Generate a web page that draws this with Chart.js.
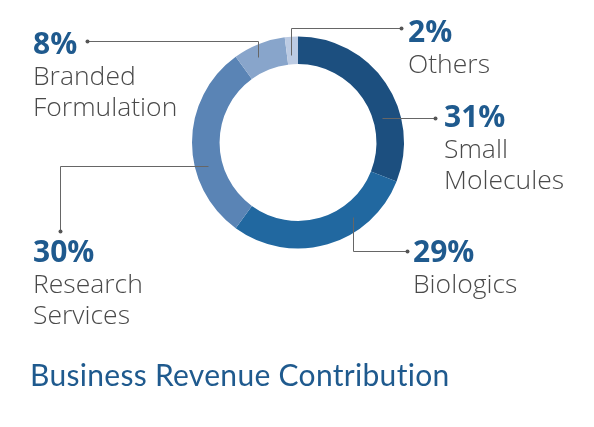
<!DOCTYPE html>
<html>
<head>
<meta charset="utf-8">
<title>Business Revenue Contribution</title>
<script src="https://cdn.jsdelivr.net/npm/chart.js@4.4.1/dist/chart.umd.min.js"></script>
<style>
  html, body { margin: 0; padding: 0; background: #fff; }
  #wrap { width: 594px; height: 427px; }
</style>
</head>
<body>
<div id="wrap"><canvas id="revenueChart" width="594" height="427"></canvas></div>
<script>
// data, clockwise from 12 o'clock
const categories = ["Small Molecules", "Biologics", "Research Services", "Branded Formulation", "Others"];
const shares = [31, 29, 30, 8, 2];
const labelLines = [["Small", "Molecules"], ["Biologics"], ["Research", "Services"], ["Branded", "Formulation"], ["Others"]];
const sliceColors = ["#1c4f7f", "#2168a0", "#5a84b5", "#88a5cb", "#bccbe3"];

// callout layout: leader polyline (ends at the dot) and text anchor
const callouts = [
  { line: [[382, 118], [435, 118]], x: 444, y: 127 },
  { line: [[353, 217], [353, 251], [407, 251]], x: 413, y: 262 },
  { line: [[208, 166], [60, 166], [60, 231]], x: 33, y: 262 },
  { line: [[258, 57], [258, 41], [87, 41]], x: 33, y: 54 },
  { line: [[291, 55], [291, 28], [401, 28]], x: 408, y: 42 },
];

const BLUE = "#1f5a8e";
const GRAY = "#4a4a4a";
const FONT = "'Open Sans', 'Noto Sans', sans-serif";

const calloutPlugin = {
  id: "callouts",
  afterDraw(chart) {
    const ctx = chart.ctx;
    ctx.save();
    callouts.forEach((c, i) => {
      // leader line
      ctx.strokeStyle = "#666";
      ctx.lineWidth = 1;
      ctx.beginPath();
      c.line.forEach((p, j) => {
        if (j === 0) ctx.moveTo(p[0] + 0.5, p[1] + 0.5);
        else ctx.lineTo(p[0] + 0.5, p[1] + 0.5);
      });
      ctx.stroke();
      const end = c.line[c.line.length - 1];
      ctx.fillStyle = "#555";
      ctx.beginPath();
      ctx.arc(end[0] + 0.5, end[1] + 0.5, 2, 0, Math.PI * 2);
      ctx.fill();

      // texts
      ctx.textBaseline = "alphabetic";
      ctx.textAlign = "left";
      ctx.fillStyle = BLUE;
      ctx.font = "bold 30px " + FONT;
      ctx.fillText(shares[i] + "%", c.x, c.y);
      ctx.fillStyle = GRAY;
      ctx.font = "300 26.5px " + FONT;
      labelLines[i].forEach((t, k) => {
        ctx.fillText(t, c.x, c.y + 31 * (k + 1));
      });
    });

    // title (small letter spacing also keeps Lato from joining "ti")
    ctx.fillStyle = BLUE;
    ctx.font = "30px Lato, " + FONT;
    ctx.letterSpacing = "0.3px";
    ctx.fillText("Business Revenue Contribution", 30, 386);
    ctx.restore();
  },
};

const ctx = document.getElementById("revenueChart").getContext("2d");
new Chart(ctx, {
  type: "doughnut",
  data: {
    labels: categories,
    datasets: [
      {
        data: shares,
        backgroundColor: sliceColors,
        borderWidth: 0,
      },
    ],
  },
  options: {
    responsive: false,
    animation: false,
    cutout: "74%",
    layout: {
      padding: { left: 192, right: 190, top: 36, bottom: 178 },
    },
    plugins: {
      legend: { display: false },
      tooltip: { enabled: false },
      title: { display: false },
    },
  },
  plugins: [calloutPlugin],
});
</script>
</body>
</html>
